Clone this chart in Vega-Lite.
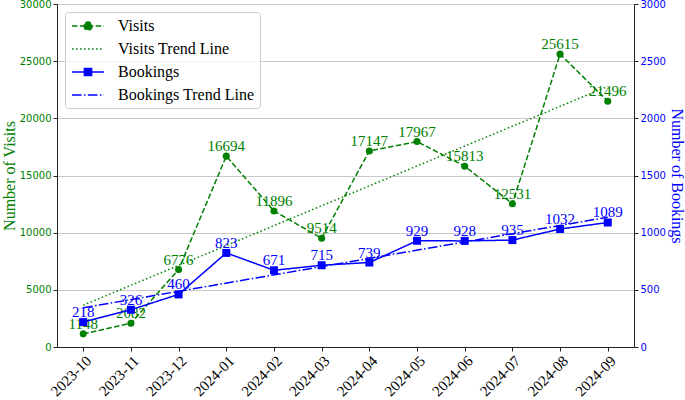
{
  "$schema": "https://vega.github.io/schema/vega-lite/v6.json",
  "width": 577,
  "height": 343,
  "autosize": {"type": "none"},
  "padding": {"left": 57, "top": 4, "right": 51, "bottom": 53},
  "background": "white",
  "config": {
    "view": {"stroke": "#222222", "strokeWidth": 1},
    "font": "Liberation Serif",
    "axisX": {
      "labelAngle": -45,
      "labelFont": "Liberation Serif",
      "labelFontSize": 15,
      "labelColor": "#000000",
      "tickSize": 4,
      "tickColor": "#222222",
      "domainColor": "#222222",
      "labelPadding": 2,
      "grid": false
    }
  },
  "data": {
    "values": [
      {"month": "2023-10", "series": "Visits", "value": 1148},
      {"month": "2023-11", "series": "Visits", "value": 2082},
      {"month": "2023-12", "series": "Visits", "value": 6776},
      {"month": "2024-01", "series": "Visits", "value": 16694},
      {"month": "2024-02", "series": "Visits", "value": 11896},
      {"month": "2024-03", "series": "Visits", "value": 9514},
      {"month": "2024-04", "series": "Visits", "value": 17147},
      {"month": "2024-05", "series": "Visits", "value": 17967},
      {"month": "2024-06", "series": "Visits", "value": 15813},
      {"month": "2024-07", "series": "Visits", "value": 12531},
      {"month": "2024-08", "series": "Visits", "value": 25615},
      {"month": "2024-09", "series": "Visits", "value": 21496},
      {"month": "2023-10", "series": "Visits Trend Line", "value": 3659},
      {"month": "2024-09", "series": "Visits Trend Line", "value": 22788},
      {"month": "2023-10", "series": "Bookings", "value": 218},
      {"month": "2023-11", "series": "Bookings", "value": 326},
      {"month": "2023-12", "series": "Bookings", "value": 460},
      {"month": "2024-01", "series": "Bookings", "value": 823},
      {"month": "2024-02", "series": "Bookings", "value": 671},
      {"month": "2024-03", "series": "Bookings", "value": 715},
      {"month": "2024-04", "series": "Bookings", "value": 739},
      {"month": "2024-05", "series": "Bookings", "value": 929},
      {"month": "2024-06", "series": "Bookings", "value": 928},
      {"month": "2024-07", "series": "Bookings", "value": 935},
      {"month": "2024-08", "series": "Bookings", "value": 1032},
      {"month": "2024-09", "series": "Bookings", "value": 1089},
      {"month": "2023-10", "series": "Bookings Trend Line", "value": 343},
      {"month": "2024-09", "series": "Bookings Trend Line", "value": 1135}
    ]
  },
  "encoding": {
    "x": {
      "field": "month",
      "type": "ordinal",
      "scale": {"type": "point", "padding": 0.55},
      "axis": {
        "title": null,
        "labelAngle": -45,
        "labelFont": "Liberation Serif",
        "labelFontSize": 15,
        "labelColor": "#000000"
      }
    }
  },
  "layer": [
    {
      "transform": [{"filter": "datum.series === 'Visits' || datum.series === 'Visits Trend Line'"}],
      "encoding": {
        "y": {
          "field": "value",
          "type": "quantitative",
          "scale": {"domain": [0, 30000], "nice": false, "zero": true},
          "axis": {
            "orient": "left",
            "title": "Number of Visits",
            "titleColor": "#008000",
            "titleFont": "Liberation Serif",
            "titleFontSize": 16,
            "titleFontWeight": "normal",
            "titlePadding": 2,
            "labelColor": "#008000",
            "labelFont": "DejaVu Sans",
            "labelFontSize": 10,
            "labelPadding": 2,
            "values": [0, 5000, 10000, 15000, 20000, 25000, 30000],
            "format": "d",
            "grid": true,
            "gridColor": "#c8c8c8",
            "tickSize": 4,
            "tickColor": "#222222",
            "domainColor": "#222222"
          }
        }
      },
      "layer": [
        {
          "mark": {"type": "line", "strokeWidth": 1.5},
          "encoding": {
            "color": {
              "field": "series",
              "type": "nominal",
              "scale": {
                "domain": ["Visits", "Visits Trend Line", "Bookings", "Bookings Trend Line"],
                "range": ["#008000", "#008000", "#0000ff", "#0000ff"]
              },
              "legend": {
                "title": null,
                "orient": "top-left",
                "offset": 8,
                "padding": 5,
                "fillColor": "rgba(255,255,255,0.8)",
                "strokeColor": "#cccccc",
                "cornerRadius": 3,
                "labelFont": "Liberation Serif",
                "labelFontSize": 16,
                "labelColor": "#000000",
                "symbolSize": 256,
                "symbolStrokeWidth": 1.5,
                "rowPadding": 6,
                "labelOffset": 21,
                "symbolOffset": 9,
                "encode": {
                  "symbols": {
                    "update": {
                      "shape": {"signal": "datum.value === 'Visits' ? 'M-2,0H2M0.5,0A0.5,0.5,0,1,1,-0.5,0A0.5,0.5,0,1,1,0.5,0Z' : datum.value === 'Bookings' ? 'M-2,0H2M-0.45,-0.45H0.45V0.45H-0.45Z' : 'M-2,0H2'"},
                      "fill": {"scale": "color", "field": "value"},
                      "stroke": {"scale": "color", "field": "value"}
                    }
                  }
                }
              }
            },
            "strokeDash": {
              "field": "series",
              "type": "nominal",
              "scale": {
                "domain": ["Visits", "Visits Trend Line", "Bookings", "Bookings Trend Line"],
                "range": [[5.5, 2.4], [1.5, 2.5], [1, 0], [9.6, 2.4, 1.5, 2.4]]
              }
            }
          }
        },
        {
          "transform": [{"filter": "datum.series === 'Visits'"}],
          "mark": {"type": "point", "filled": true, "shape": "circle", "size": 50, "color": "#008000", "opacity": 1}
        },
        {
          "transform": [{"filter": "datum.series === 'Visits'"}],
          "mark": {"type": "text", "font": "Liberation Serif", "fontSize": 15, "color": "#008000", "baseline": "alphabetic", "align": "center", "dy": -5},
          "encoding": {"text": {"field": "value", "type": "quantitative", "format": "d"}}
        }
      ]
    },
    {
      "transform": [{"filter": "datum.series === 'Bookings' || datum.series === 'Bookings Trend Line'"}],
      "encoding": {
        "y": {
          "field": "value",
          "type": "quantitative",
          "scale": {"domain": [0, 3000], "nice": false, "zero": true},
          "axis": {
            "orient": "right",
            "title": "Number of Bookings",
            "titleColor": "#0000ff",
            "titleFont": "Liberation Serif",
            "titleFontSize": 16,
            "titleFontWeight": "normal",
            "titlePadding": 3,
            "labelColor": "#0000ff",
            "labelFont": "DejaVu Sans",
            "labelFontSize": 10,
            "labelPadding": 2,
            "values": [0, 500, 1000, 1500, 2000, 2500, 3000],
            "format": "d",
            "grid": false,
            "tickSize": 4,
            "tickColor": "#222222",
            "domainColor": "#222222"
          }
        }
      },
      "layer": [
        {
          "mark": {"type": "line", "strokeWidth": 1.5},
          "encoding": {
            "color": {"field": "series", "type": "nominal"},
            "strokeDash": {"field": "series", "type": "nominal"}
          }
        },
        {
          "transform": [{"filter": "datum.series === 'Bookings'"}],
          "mark": {"type": "point", "filled": true, "shape": "square", "size": 64, "color": "#0000ff", "opacity": 1}
        },
        {
          "transform": [{"filter": "datum.series === 'Bookings'"}],
          "mark": {"type": "text", "font": "Liberation Serif", "fontSize": 15, "color": "#0000ff", "baseline": "alphabetic", "align": "center", "dy": -5},
          "encoding": {"text": {"field": "value", "type": "quantitative", "format": "d"}}
        }
      ]
    }
  ],
  "resolve": {"scale": {"y": "independent"}, "axis": {"y": "independent"}}
}
